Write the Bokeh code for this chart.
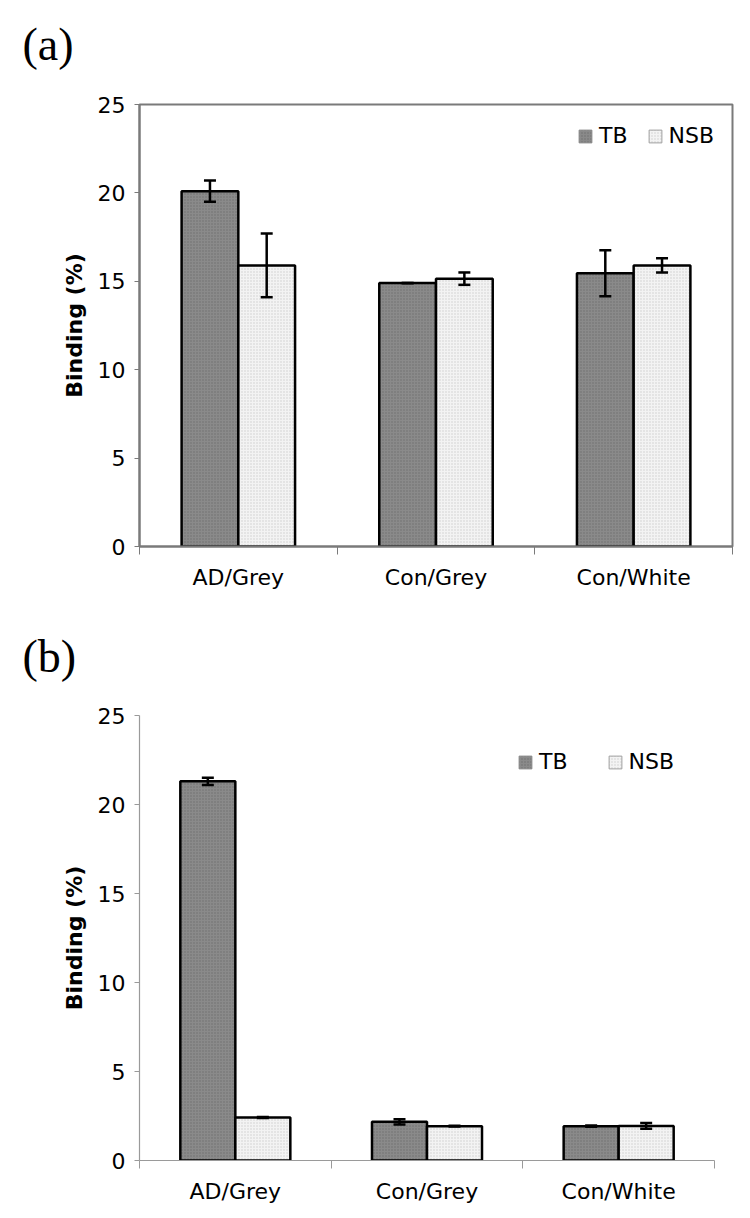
from bokeh.plotting import figure
from bokeh.models import (ColumnDataSource, Whisker, TeeHead, FixedTicker, Range1d,
                          Legend, LegendItem, Title)
from bokeh.layouts import column
from bokeh.embed import file_html
from bokeh.resources import INLINE

# ---------------- data ----------------
categories = ["AD/Grey", "Con/Grey", "Con/White"]
series = ["TB", "NSB"]
y_ticks = [0, 5, 10, 15, 20, 25]

a_tb = [20.1, 14.9, 15.45]
a_tb_err = [0.6, 0.0, 1.3]
a_nsb = [15.9, 15.15, 15.9]
a_nsb_err = [1.8, 0.35, 0.4]

b_tb = [21.3, 2.17, 1.93]
b_tb_err = [0.2, 0.15, 0.03]
b_nsb = [2.42, 1.93, 1.94]
b_nsb_err = [0.03, 0.02, 0.16]

# ---------------- style ----------------
FONT = "DejaVu Sans"
TB_FILL = "#8a8a8a"
TB_HATCH = "#5a5a5a"
NSB_FILL = "#f3f3f3"
NSB_HATCH = "#c0c0c0"
BAR_W = 0.287


def make_chart(letter, tb, tb_err, nsb, nsb_err, boxed, width, height,
               borders, letter_offset, letter_standoff, gap_standoff,
               legend_xy, legend_spacing, axis_color):
    left, right, top, bottom = borders
    p = figure(width=width, height=height, output_backend="svg",
               toolbar_location=None, title=None,
               x_range=Range1d(0, 3), y_range=Range1d(0, 25),
               min_border_left=left, min_border_right=right,
               min_border_top=top, min_border_bottom=bottom)
    p.grid.visible = False
    p.background_fill_color = "white"
    p.border_fill_color = "white"
    if boxed:
        p.outline_line_color = "#7a7a7a"
        p.outline_line_width = 2
    else:
        p.outline_line_color = None

    n = len(categories)
    centers = [i + 0.5 for i in range(n)]
    x_tb = [c - BAR_W / 2 for c in centers]
    x_nsb = [c + BAR_W / 2 for c in centers]

    src_tb = ColumnDataSource(dict(x=x_tb, top=tb,
                                   up=[v + e for v, e in zip(tb, tb_err)],
                                   lo=[v - e for v, e in zip(tb, tb_err)]))
    src_nsb = ColumnDataSource(dict(x=x_nsb, top=nsb,
                                    up=[v + e for v, e in zip(nsb, nsb_err)],
                                    lo=[v - e for v, e in zip(nsb, nsb_err)]))

    tb_style = dict(fill_color=TB_FILL, hatch_pattern="dot", hatch_color=TB_HATCH,
                    hatch_scale=3, hatch_weight=1, hatch_alpha=0.6)
    nsb_style = dict(fill_color=NSB_FILL, hatch_pattern="dot", hatch_color=NSB_HATCH,
                     hatch_scale=3, hatch_weight=1, hatch_alpha=0.7)

    # key renderers (thin grey outline, drawn first and fully covered by the bars)
    lg_tb = p.vbar(x="x", top="top", width=BAR_W, source=src_tb,
                   line_color="#8a8a8a", line_width=1, **tb_style)
    lg_nsb = p.vbar(x="x", top="top", width=BAR_W, source=src_nsb,
                    line_color="#a0a0a0", line_width=1, **nsb_style)

    p.vbar(x="x", top="top", width=BAR_W, source=src_tb,
           line_color="black", line_width=2.5, **tb_style)
    p.vbar(x="x", top="top", width=BAR_W, source=src_nsb,
           line_color="black", line_width=2.5, **nsb_style)

    for src in (src_tb, src_nsb):
        w = Whisker(base="x", upper="up", lower="lo", source=src, level="overlay",
                    line_color="black", line_width=2.5,
                    upper_head=TeeHead(size=12, line_width=2.5, line_color="black"),
                    lower_head=TeeHead(size=12, line_width=2.5, line_color="black"))
        p.add_layout(w)

    # x axis: labels at group centres, ticks at group boundaries
    xa = p.xaxis[0]
    xa.ticker = FixedTicker(ticks=centers, minor_ticks=list(range(n + 1)))
    xa.major_label_overrides = {c: lab for c, lab in zip(centers, categories)}
    xa.major_tick_line_color = None
    xa.major_tick_out = 0
    xa.major_tick_in = 0
    xa.minor_tick_out = 8
    xa.minor_tick_in = 0
    xa.minor_tick_line_color = axis_color
    xa.axis_line_color = axis_color
    xa.axis_line_width = 2 if boxed else 1.2
    xa.major_label_text_font = FONT
    xa.major_label_text_font_size = "22px"
    xa.major_label_text_color = "black"
    xa.major_label_standoff = 10

    ya = p.yaxis[0]
    ya.ticker = FixedTicker(ticks=y_ticks)
    ya.major_tick_out = 5
    ya.major_tick_in = 0
    ya.minor_tick_line_color = None
    ya.major_tick_line_color = axis_color
    ya.axis_line_color = axis_color
    ya.axis_line_width = 2 if boxed else 1.2
    ya.major_label_text_font = FONT
    ya.major_label_text_font_size = "22px"
    ya.major_label_text_color = "black"
    ya.major_label_standoff = 9
    ya.axis_label = "Binding (%)"
    ya.axis_label_text_font = FONT
    ya.axis_label_text_font_size = "22px"
    ya.axis_label_text_font_style = "bold"
    ya.axis_label_text_color = "black"
    ya.axis_label_standoff = 8

    legend = Legend(items=[LegendItem(label=series[0], renderers=[lg_tb]),
                           LegendItem(label=series[1], renderers=[lg_nsb])],
                    orientation="horizontal", location=legend_xy,
                    glyph_width=16, glyph_height=16, label_standoff=6,
                    spacing=legend_spacing, margin=0, padding=0,
                    border_line_color=None, background_fill_alpha=0,
                    label_text_font=FONT, label_text_font_size="22px",
                    label_text_color="black")
    p.add_layout(legend)

    # blank spacer title closest to the frame, then the panel letter above it
    gap = Title(text=" ", text_font_size="2px", standoff=gap_standoff)
    p.add_layout(gap, "above")
    t = Title(text=letter, align="left", offset=letter_offset,
              text_font="Liberation Serif", text_font_size="46px",
              text_font_style="normal", text_color="black",
              standoff=letter_standoff)
    p.add_layout(t, "above")
    return p


pa = make_chart("(a)", a_tb, a_tb_err, a_nsb, a_nsb_err, True, 742, 608,
                (139, 10, 104, 62), -117, 29, 16, (438, 398), 19, "#7a7a7a")
pb = make_chart("(b)", b_tb, b_tb_err, b_nsb, b_nsb_err, False, 724, 602,
                (139, 10, 107, 50), -117, 39, 10, (378, 386), 39, "#9a9a9a")

layout = column(pa, pb, spacing=0)
open("out.html", "w").write(file_html(layout, INLINE))
